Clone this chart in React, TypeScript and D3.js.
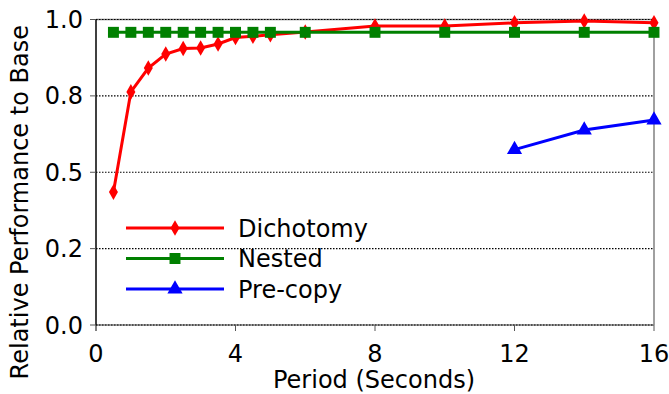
import React, { useEffect, useRef } from 'react';
import * as d3 from 'd3';

const dichoX = [0.5, 1, 1.5, 2, 2.5, 3, 3.5, 4, 4.5, 5, 6, 8, 10, 12, 14, 16];
const dichoY = [0.435, 0.763, 0.841, 0.887, 0.905, 0.907, 0.92, 0.941, 0.945, 0.95, 0.959, 0.979, 0.979, 0.989, 0.995, 0.989];
const nestedX = [0.5, 1, 1.5, 2, 2.5, 3, 3.5, 4, 4.5, 5, 6, 8, 10, 12, 14, 16];
const nestedY = [0.958, 0.958, 0.958, 0.958, 0.958, 0.958, 0.958, 0.958, 0.958, 0.958, 0.958, 0.958, 0.958, 0.958, 0.958, 0.958];
const precopyX = [12, 14, 16];
const precopyY = [0.574, 0.638, 0.671];

const xTicks = [0, 4, 8, 12, 16];
const yTicks = [0, 0.25, 0.5, 0.75, 1.0];
const yTickLabels = ['0.0', '0.2', '0.5', '0.8', '1.0'];

const seriesNames = ['Dichotomy', 'Nested', 'Pre-copy'];
const seriesColors = ['#ff0000', '#008000', '#0000ff'];
const seriesShapes = [d3.symbolDiamond, d3.symbolSquare, d3.symbolTriangle];
const seriesSizes = [70, 120, 100];

const App = () => {
  const ref = useRef<SVGSVGElement>(null);

  useEffect(() => {
    const svg = d3.select(ref.current);
    svg.selectAll('*').remove();

    const width = 669;
    const height = 394;
    const margin = { top: 19.5, right: 15, bottom: 69, left: 96 };
    const innerW = width - margin.left - margin.right;
    const innerH = height - margin.top - margin.bottom;
    const font = 'DejaVu Sans, sans-serif';
    const fs = 24;

    const x = d3.scaleLinear().domain([0, 16]).range([0, innerW]);
    const y = d3.scaleLinear().domain([0, 1]).range([innerH, 0]);

    const g = svg.append('g').attr('transform', `translate(${margin.left},${margin.top})`);

    // spines
    g.append('line').attr('x1', 0).attr('x2', innerW).attr('y1', 0).attr('y2', 0)
      .attr('stroke', '#808080').attr('stroke-width', 1.5);
    g.append('line').attr('x1', 0).attr('x2', innerW).attr('y1', innerH).attr('y2', innerH)
      .attr('stroke', '#808080').attr('stroke-width', 1.5);
    g.append('line').attr('x1', innerW).attr('x2', innerW).attr('y1', 0).attr('y2', innerH)
      .attr('stroke', '#808080').attr('stroke-width', 1.5);

    // grid
    g.selectAll('.grid').data(yTicks).enter().append('line')
      .attr('x1', 0).attr('x2', innerW)
      .attr('y1', d => y(d)).attr('y2', d => y(d))
      .attr('stroke', '#000').attr('stroke-width', 1.2)
      .attr('stroke-dasharray', '1.5,1.5');

    g.append('line').attr('x1', 0).attr('x2', 0).attr('y1', 0).attr('y2', innerH)
      .attr('stroke', '#000').attr('stroke-width', 1.5);

    // ticks
    g.selectAll('.xt').data(xTicks).enter().append('line')
      .attr('x1', d => x(d)).attr('x2', d => x(d))
      .attr('y1', innerH).attr('y2', innerH + 6)
      .attr('stroke', d => (d === 0 ? '#000' : '#555')).attr('stroke-width', 1);
    g.selectAll('.xl').data(xTicks).enter().append('text')
      .attr('x', d => x(d)).attr('y', innerH + 37)
      .attr('text-anchor', 'middle').attr('font-family', font).attr('font-size', fs)
      .text(d => String(d));

    g.selectAll('.yt').data(yTicks).enter().append('line')
      .attr('x1', -6).attr('x2', 0)
      .attr('y1', d => y(d)).attr('y2', d => y(d))
      .attr('stroke', '#555').attr('stroke-width', 1);
    g.selectAll('.yl').data(yTicks).enter().append('text')
      .attr('x', -13).attr('y', d => y(d) + 8.5)
      .attr('text-anchor', 'end').attr('font-family', font).attr('font-size', fs)
      .text((d, i) => yTickLabels[i]);

    // axis labels
    svg.append('text')
      .attr('x', margin.left + innerW / 2 - 1).attr('y', height - 6)
      .attr('text-anchor', 'middle').attr('font-family', font).attr('font-size', fs)
      .text('Period (Seconds)');
    svg.append('text')
      .attr('transform', `translate(28,${margin.top + innerH / 2 + 30}) rotate(-90)`)
      .attr('text-anchor', 'middle').attr('font-family', font).attr('font-size', fs)
      .text('Relative Performance to Base');

    const series = [
      { xs: dichoX, ys: dichoY },
      { xs: nestedX, ys: nestedY },
      { xs: precopyX, ys: precopyY },
    ];

    const line = d3.line<[number, number]>().x(d => x(d[0])).y(d => y(d[1]));

    series.forEach((s, i) => {
      const pts: [number, number][] = s.xs.map((v, j) => [v, s.ys[j]]);
      g.append('path').datum(pts)
        .attr('d', line).attr('fill', 'none')
        .attr('stroke', seriesColors[i]).attr('stroke-width', 3);
      g.selectAll(`.m${i}`).data(pts).enter().append('path')
        .attr('transform', d => `translate(${x(d[0])},${y(d[1])})`)
        .attr('d', d3.symbol().type(seriesShapes[i]).size(seriesSizes[i]))
        .attr('fill', seriesColors[i]);
    });

    // legend
    const legend = svg.append('g').attr('transform', 'translate(126,228)');
    seriesNames.forEach((name, i) => {
      const ly = i * 30.5;
      legend.append('line').attr('x1', 0).attr('x2', 98).attr('y1', ly).attr('y2', ly)
        .attr('stroke', seriesColors[i]).attr('stroke-width', 3);
      legend.append('path')
        .attr('transform', `translate(49,${ly})`)
        .attr('d', d3.symbol().type(seriesShapes[i]).size(seriesSizes[i]))
        .attr('fill', seriesColors[i]);
      legend.append('text').attr('x', 112).attr('y', ly + 8.5)
        .attr('font-family', font).attr('font-size', fs)
        .text(name);
    });
  }, []);

  return <svg ref={ref} width={669} height={394} style={{ position: 'absolute', left: 0, top: 0 }}></svg>;
};

export default App;
